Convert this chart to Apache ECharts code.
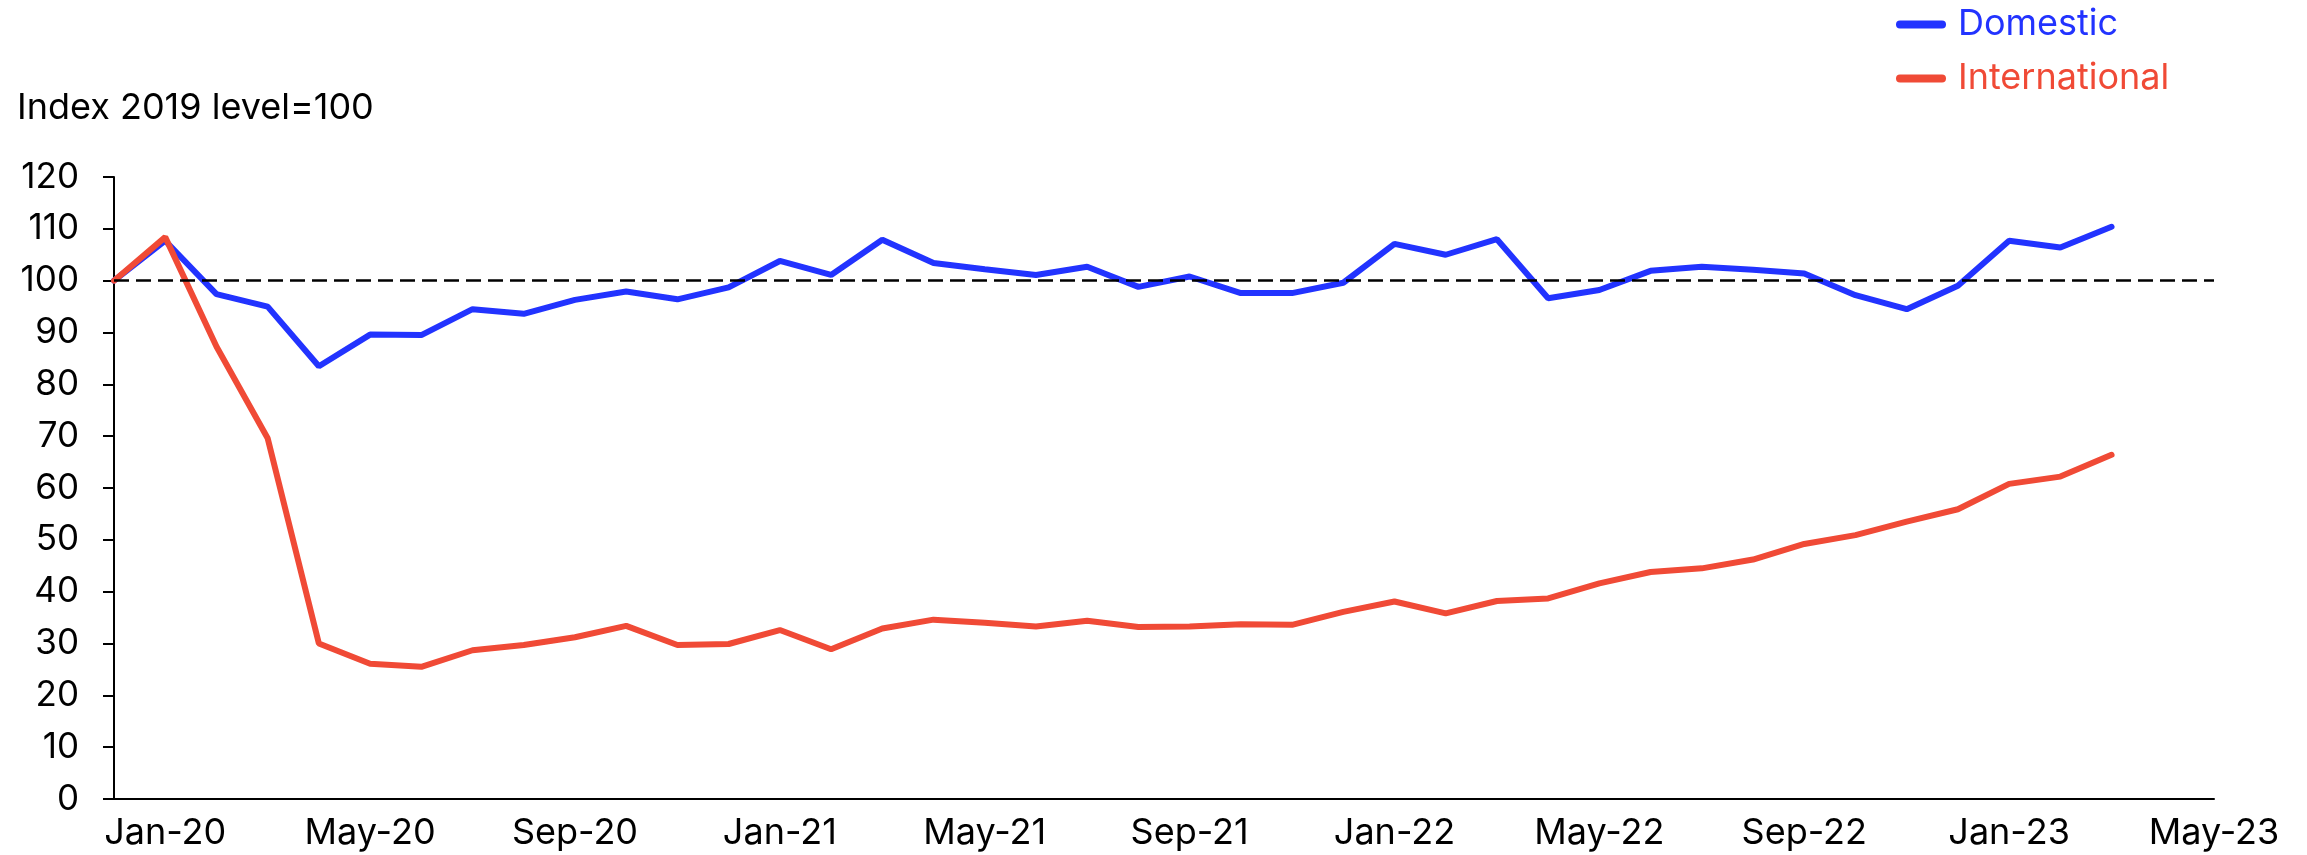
<!DOCTYPE html>
<html>
<head>
<meta charset="utf-8">
<script src="https://cdn.jsdelivr.net/npm/echarts@6/dist/echarts.min.js"></script>
<style>
    html, body {margin: 0; padding: 0; background: #fff;}
    #chart {width: 2307px; height: 855px;}
</style>
</head>
<body>
<div id="chart"></div>
<script>
// months on the axis, first point is the 2019 base
var months = ['Dec-19',
    'Jan-20', 'Feb-20', 'Mar-20', 'Apr-20', 'May-20', 'Jun-20', 'Jul-20', 'Aug-20', 'Sep-20', 'Oct-20', 'Nov-20', 'Dec-20',
    'Jan-21', 'Feb-21', 'Mar-21', 'Apr-21', 'May-21', 'Jun-21', 'Jul-21', 'Aug-21', 'Sep-21', 'Oct-21', 'Nov-21', 'Dec-21',
    'Jan-22', 'Feb-22', 'Mar-22', 'Apr-22', 'May-22', 'Jun-22', 'Jul-22', 'Aug-22', 'Sep-22', 'Oct-22', 'Nov-22', 'Dec-22',
    'Jan-23', 'Feb-23', 'Mar-23', 'Apr-23', 'May-23'];

var domestic = [100, 107.7, 97.4, 95.0, 83.5, 89.6, 89.5, 94.5, 93.6, 96.3, 97.9, 96.4, 98.7,
    103.8, 101.1, 107.9, 103.4, 102.2, 101.1, 102.7, 98.8, 100.8, 97.6, 97.6, 99.6,
    107.1, 105.0, 108.0, 96.6, 98.2, 101.9, 102.7, 102.1, 101.4, 97.2, 94.5, 99.0,
    107.7, 106.4, 110.4];

var international = [100, 108.4, 87.3, 69.6, 30.0, 26.1, 25.5, 28.7, 29.7, 31.2, 33.4, 29.7, 29.9,
    32.6, 28.9, 32.9, 34.6, 34.0, 33.3, 34.4, 33.2, 33.3, 33.7, 33.6, 36.1,
    38.1, 35.8, 38.2, 38.7, 41.6, 43.8, 44.5, 46.2, 49.2, 50.9, 53.5, 55.9,
    60.8, 62.2, 66.4];

var baseLevel = 100;
var blue = '#2233ff', red = '#f04a36';
var font = 'Inter, "Noto Sans", sans-serif';

var chart = echarts.init(document.getElementById('chart'));
chart.setOption({
    animation: false,
    textStyle: {fontFamily: font},
    title: {
        text: 'Index 2019 level=100', left: 12, top: 85,
        textStyle: {fontFamily: font, fontSize: 36, fontWeight: 'normal', color: '#000'}
    },
    legend: {
        orient: 'vertical', left: 1891, top: -1, itemWidth: 50, itemHeight: 8, itemGap: 13,
        icon: 'path://M4,0 H46 A4,4 0 0 1 46,8 H4 A4,4 0 0 1 4,0 Z',
        textStyle: {fontFamily: font, fontSize: 36, lineHeight: 41, padding: [0, 0, 0, 7]},
        data: [
            {name: 'Domestic', textStyle: {color: blue}},
            {name: 'International', textStyle: {color: red}}
        ]
    },
    grid: {left: 114, right: 93, top: 177, bottom: 56},
    xAxis: {
        type: 'category', data: months, boundaryGap: false,
        axisLine: {lineStyle: {color: '#000', width: 2}},
        axisTick: {show: false},
        axisLabel: {
            color: '#000', fontSize: 36, margin: 16,
            interval: function (idx) { return (idx - 1) % 4 === 0; }
        },
        splitLine: {show: false}
    },
    yAxis: {
        type: 'value', min: 0, max: 120, interval: 10,
        axisLine: {show: true, lineStyle: {color: '#000', width: 2}},
        axisTick: {show: true, length: 11, lineStyle: {color: '#000', width: 2}},
        axisLabel: {color: '#000', fontSize: 35, margin: 35},
        splitLine: {show: false}
    },
    series: [
        {
            name: 'Domestic', type: 'line', data: domestic, symbol: 'none', color: blue,
            lineStyle: {width: 6, color: blue, cap: 'round'},
            markLine: {
                silent: true, symbol: 'none', label: {show: false},
                lineStyle: {color: '#000', width: 2.5, type: [15, 7]},
                data: [{yAxis: baseLevel}]
            },
            z: 2
        },
        {
            name: 'International', type: 'line', data: international, symbol: 'none', color: red,
            lineStyle: {width: 6, color: red, cap: 'round'},
            z: 3
        }
    ]
});
</script>
</body>
</html>
